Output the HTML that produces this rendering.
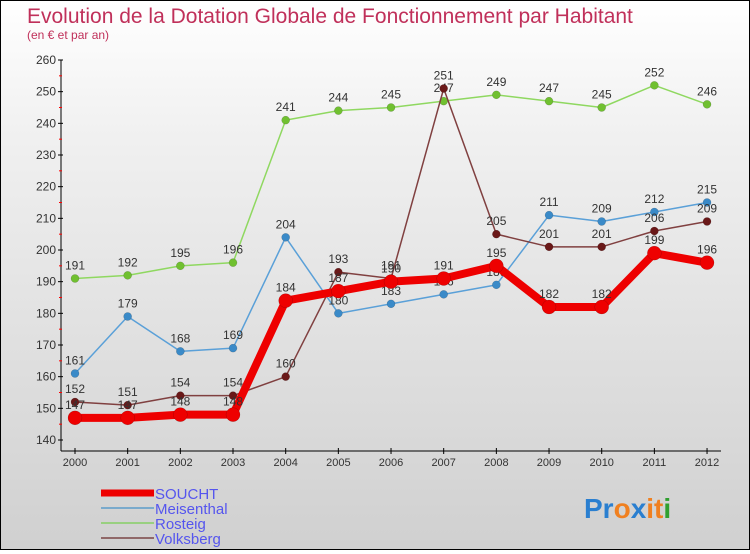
<!DOCTYPE html>
<html><head><meta charset="utf-8"><style>
html,body{margin:0;padding:0}
body{width:750px;height:550px;overflow:hidden;font-family:"Liberation Sans",sans-serif}
#wrap{position:relative;width:748px;height:548px;border:1px solid #000;background:linear-gradient(#fff,#f0f0f0 25%,#d0d0d0)}
</style></head><body>
<div id="wrap">
<svg id="chart" width="748" height="548">
<text x="26" y="22" font-size="21" fill="#c0305a">Evolution de la Dotation Globale de Fonctionnement par Habitant</text>
<text x="26" y="38" font-size="12" fill="#c0305a">(en € et par an)</text>
<g id="axes"></g><g id="series"></g><g id="legend"></g>
<text x="583" y="517" font-size="28" font-weight="bold"><tspan fill="#2a7fd0">Pr</tspan><tspan fill="#f08020">o</tspan><tspan fill="#2a7fd0">x</tspan><tspan fill="#f08020">it</tspan><tspan fill="#30a030">i</tspan></text>
</svg>
</div>
<script>
const years=[2000,2001,2002,2003,2004,2005,2006,2007,2008,2009,2010,2011,2012];
const yTicks=[140,150,160,170,180,190,200,210,220,230,240,250,260];
const soucht=[147,147,148,148,184,187,190,191,195,182,182,199,196];
const meisenthal=[161,179,168,169,204,180,183,186,189,211,209,212,215];
const rosteig=[191,192,195,196,241,244,245,247,249,247,245,252,246];
const volksberg=[152,151,154,154,160,193,191,251,205,201,201,206,209];
const NS="http://www.w3.org/2000/svg";
function X(i){return 74+i*52.67;}
function Y(v){return 439-(v-140)*3.1667;}
function mk(tag,attrs,parent){const e=document.createElementNS(NS,tag);for(const k in attrs)e.setAttribute(k,attrs[k]);parent.appendChild(e);return e;}
const ax=document.getElementById('axes');
let l=mk('line',{x1:60,y1:59,x2:60,y2:450,stroke:'#000','stroke-width':1},ax);


l=mk('line',{x1:60,y1:450,x2:720,y2:450,stroke:'#000','stroke-width':1},ax);


yTicks.forEach(v=>{
 mk('line',{x1:57,y1:Y(v),x2:62,y2:Y(v),stroke:'#000'},ax);
 if(v<260)mk('line',{x1:58,y1:Y(v+5),x2:61,y2:Y(v+5),stroke:'#f00'},ax);
 const t=mk('text',{x:55,y:Y(v)+4,'text-anchor':'end','font-size':12,fill:'#333'},ax);t.textContent=v;
 
 
});
years.forEach((yr,i)=>{
 mk('line',{x1:X(i),y1:447,x2:X(i),y2:453,stroke:'#000'},ax);
 const t=mk('text',{x:X(i),y:465,'text-anchor':'middle','font-size':11,fill:'#333'},ax);t.textContent=yr;
 
 
});
const sg=document.getElementById('series');
const defs=[
 {name:'rosteig',data:rosteig,color:'#8fd860',dot:'#70c030',w:1.5,r:4},
 {name:'meisenthal',data:meisenthal,color:'#5aa0d8',dot:'#3a8ac8',w:1.5,r:4},
 {name:'volksberg',data:volksberg,color:'#804040',dot:'#6a1818',w:1.5,r:4},
 {name:'soucht',data:soucht,color:'#ee0000',dot:'#ee0000',w:8,r:7}
];
defs.forEach(s=>{
 const g=mk('g',{},sg);
 
 
 const p=mk('polyline',{points:s.data.map((v,i)=>X(i)+','+Y(v)).join(' '),fill:'none',stroke:s.color,'stroke-width':s.w,'stroke-linejoin':'round'},g);
 
 
 s.data.forEach((v,i)=>{
  const c=mk('circle',{cx:X(i),cy:Y(v),r:s.r,fill:s.dot,stroke:'rgba(0,0,0,0.25)','stroke-width':0.5},g);
  
  
  const t=mk('text',{x:X(i),y:Y(v)-9,'text-anchor':'middle','font-size':12,fill:'#333'},g);t.textContent=v;
  
  
 });
});
const lg=document.getElementById('legend');
const leg=[['SOUCHT','#ee0000',7],['Meisenthal','#7aaacc',2],['Rosteig','#99d080',2],['Volksberg','#906868',2]];
leg.forEach((e,i)=>{
 const y=492+i*15;
 const g=mk('g',{},lg);
 
 
 mk('line',{x1:100,y1:y,x2:153,y2:y,stroke:e[1],'stroke-width':e[2]},g);
 const t=mk('text',{x:154,y:y+6,'font-size':15,fill:'#5555ee'},g);t.textContent=e[0];
});
</script>
</body></html>
